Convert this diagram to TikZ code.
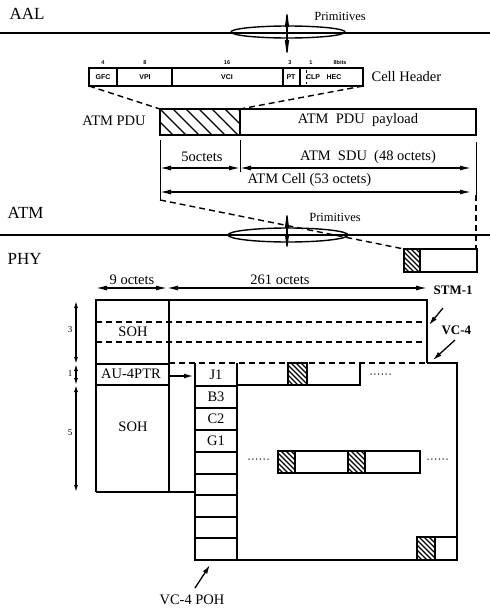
\documentclass[tikz,border=0pt]{standalone}
\usepackage{fontspec}
\setmainfont{Liberation Serif}
\newfontfamily\hsans{Liberation Sans}
\usetikzlibrary{arrows.meta}
\newcommand{\hatchrect}[6]{%
  \begin{scope}
    \clip (#1,#2) rectangle (#3,#4);
    \foreach \k in {0,...,40}
      \draw[line width=#6] ({#1-(#4-#2)+\k*#5},#2) -- ({#1+\k*#5},#4);
  \end{scope}
  \draw[line width=1.2pt] (#1,#2) rectangle (#3,#4);}
\newcommand{\dotrow}[2]{%
  \foreach \i in {0,...,5} \fill ({#1+\i*3.8},#2) circle (0.75pt);}
\begin{document}
\begin{tikzpicture}[x=1pt,y=-1pt,line width=1.2pt,
  txt/.style={inner sep=0pt, font=\fontsize{14.5}{14.5}\selectfont},
  big/.style={inner sep=0pt, font=\fontsize{17}{17}\selectfont},
  prim/.style={inner sep=0pt, font=\fontsize{12.5}{12.5}\selectfont},
  fld/.style={inner sep=0pt, font=\hsans\bfseries\fontsize{7}{7}\selectfont},
  tinynum/.style={inner sep=0pt, font=\hsans\bfseries\fontsize{5.5}{5.5}\selectfont},
  sidenum/.style={inner sep=0pt, font=\fontsize{9}{9}\selectfont},
  dim/.style={line width=1.3pt, {Latex[length=11pt,width=5pt]}-{Latex[length=11pt,width=5pt]}},
  sdim/.style={line width=1.3pt, {Latex[length=7pt,width=4pt]}-{Latex[length=7pt,width=4pt]}},
  pointer/.style={line width=1.3pt, -{Latex[length=9pt,width=5pt]}},
  dashln/.style={line width=1.4pt, dash pattern=on 6pt off 4pt},
  layer/.style={line width=1.7pt},
  spindle/.style={line width=1.3pt, {Latex[length=22pt,width=4.5pt]}-{Latex[length=22pt,width=4.5pt]}},
]
\useasboundingbox (0,0) rectangle (490,608);

% ---------------- AAL layer ----------------
\node[big, anchor=west] (aal) at (9,14) {AAL};
\draw[layer] (0,33) -- (490,33);
\draw[line width=1.4pt] (288,32) ellipse [x radius=57pt, y radius=6pt];
\coordinate (p1t) at (287,5); \coordinate (p1b) at (287,62);
\draw[spindle] (p1t) -- (p1b);
\node[prim] (prim1) at (340,16) {Primitives};

% ---------------- Cell header ----------------
\draw[line width=1.3pt] (89,68) rectangle (363,86);
\foreach \xx in {117,172,283,300} \draw[line width=1.3pt] (\xx,68) -- (\xx,86);
\draw[line width=0.8pt, dashed] (306,70) -- (306,84);
\node[fld] (gfc) at (103,77) {GFC};
\node[fld] (vpi) at (145,77) {VPI};
\node[fld] (vci) at (227,77) {VCI};
\node[fld] (pt) at (291,77) {PT};
\node[fld] (clp) at (313,77) {CLP};
\node[fld] (hec) at (334,77) {HEC};
\node[tinynum] (n4) at (103,63) {4};
\node[tinynum] (n8) at (145,63) {8};
\node[tinynum] (n16) at (227,63) {16};
\node[tinynum] (n3) at (290,63) {3};
\node[tinynum] (n1) at (311,63) {1};
\node[tinynum] (n8b) at (340,63) {8bits};
\node[txt, anchor=west] (ch) at (371,77) {Cell Header};
\coordinate (hbl) at (89,86); \coordinate (hbr) at (363,86);

% ---------------- ATM PDU ----------------
\coordinate (pdutl) at (160,109); \coordinate (hatchr) at (240,109);
\draw[dashln] (hbl) -- (pdutl);
\draw[dashln] (hbr) -- (hatchr);
\draw[line width=1.4pt] (160,109) rectangle (476,135);
\hatchrect{160}{109}{240}{135}{13}{1.4pt}
\node[txt] (pdu) at (114,121) {ATM PDU};
\node[txt] (payload) at (358,120) {ATM\ \ PDU\ \ payload};

\coordinate (va1) at (160,140); \coordinate (va2) at (160,200);
\coordinate (vb1) at (240,140); \coordinate (vb2) at (240,172);
\coordinate (vc1) at (476,142); \coordinate (vc2) at (476,195); \coordinate (vc3) at (476,249);
\draw[line width=1pt] (va1) -- (va2);
\draw[line width=1pt] (vb1) -- (vb2);
\draw[line width=1pt] (vc1) -- (vc2);
\draw[dashln] (vc2) -- (vc3);
\draw[dim] (160,168) -- (240,168);
\draw[dim] (240,168) -- (471,168);
\draw[dim] (160,192) -- (471,192);
\node[txt] (five) at (202,157) {5octets};
\node[txt] (sdu) at (368,157) {ATM\ \ SDU\ \ (48 octets)};
\node[txt, anchor=west] (cell) at (247,180) {ATM Cell (53 octets)};

% ---------------- ATM layer ----------------
\coordinate (celltl) at (404,249);
\draw[dashln] (va2) -- (celltl);
\node[big, anchor=west] (atm) at (7,213) {ATM};
\draw[layer] (0,235) -- (490,235);
\draw[line width=1.4pt] (288,235) ellipse [x radius=60pt, y radius=7pt];
\coordinate (p2t) at (287,206); \coordinate (p2b) at (287,256);
\draw[spindle] (p2t) -- (p2b);
\node[prim] (prim2) at (335,217) {Primitives};

% ---------------- PHY ----------------
\node[big, anchor=west] (phy) at (7,259) {PHY};
\draw[line width=1.4pt] (404,249) rectangle (477,272);
\hatchrect{404}{249}{420}{272}{5}{1.2pt}

\draw[dim] (96,288) -- (167,288);
\draw[dim] (167,288) -- (427,288);
\node[txt] (nine) at (132,280) {9 octets};
\node[txt] (twosixone) at (280,280) {261 octets};
\node[txt, anchor=west, font=\bfseries\fontsize{13}{13}\selectfont] (stm) at (433,290) {STM-1};

% STM-1 frame
\draw[line width=1.3pt] (96,492) -- (96,300) -- (427,300) -- (427,363);
\draw[line width=1.3pt] (169,300) -- (169,492);
\draw[line width=1.3pt] (96,492) -- (195,492);
\draw[dashln] (96,322) -- (427,322);
\draw[dashln] (96,342) -- (427,342);
\draw[line width=1.5pt] (96,364) -- (169,364);
\draw[line width=1.5pt] (96,385) -- (169,385);
\draw[dashln] (169,363) -- (427,363);
\node[txt] (soh1) at (133,332) {SOH};
\node[txt] (au4) at (131,374) {AU-4PTR};
\node[txt] (soh2) at (133,427) {SOH};

% VC-4
\draw[line width=2.2pt] (427,363) -- (457,363) -- (457,560) -- (195,560) -- (195,363);
\draw[line width=1.3pt] (237,363) -- (237,560);
\foreach \yy in {386,408,430,452,474,495,517,538}
  \draw[line width=1.2pt] (195,\yy) -- (237,\yy);
\node[txt] (j1) at (216,375) {J1};
\node[txt] (b3) at (216,397) {B3};
\node[txt] (c2) at (216,419) {C2};
\node[txt] (g1) at (216,441) {G1};

% payload strips
\draw[line width=1.2pt] (237,385) -- (360,385) -- (360,363);
\hatchrect{288}{363}{307}{385}{5}{1.2pt}
\dotrow{371}{374}
\draw[line width=1.2pt] (278,451) rectangle (420,473);
\hatchrect{278}{451}{295}{473}{5}{1.2pt}
\hatchrect{348}{451}{365}{473}{5}{1.2pt}
\dotrow{249}{459}
\dotrow{428}{459}
\draw[line width=1.2pt] (417,537) rectangle (457,560);
\hatchrect{417}{537}{435}{560}{5}{1.2pt}

% pointers
\coordinate (au4r) at (170,376); \coordinate (j1l) at (193,376);
\draw[pointer] (au4r) -- (j1l);
\node[txt, anchor=west, font=\bfseries\fontsize{13}{13}\selectfont] (vc4) at (441,330) {VC-4};
\coordinate (va) at (443,308); \coordinate (vah) at (429,325);
\draw[pointer] (va) -- (vah);
\coordinate (vb) at (455,340); \coordinate (vbh) at (433,360);
\draw[pointer] (vb) -- (vbh);
\node[txt] (poh) at (192,600) {VC-4 POH};
\coordinate (pa) at (195,588); \coordinate (pah) at (210,565);
\draw[pointer] (pa) -- (pah);

% left row counts
\draw[sdim] (76,301) -- (76,364);
\draw[sdim] (76,364) -- (76,385);
\draw[sdim] (76,385) -- (76,492);
\node[sidenum] (r3) at (70,330) {3};
\node[sidenum] (r1) at (70,374) {1};
\node[sidenum] (r5) at (70,433) {5};
\end{tikzpicture}
\end{document}
